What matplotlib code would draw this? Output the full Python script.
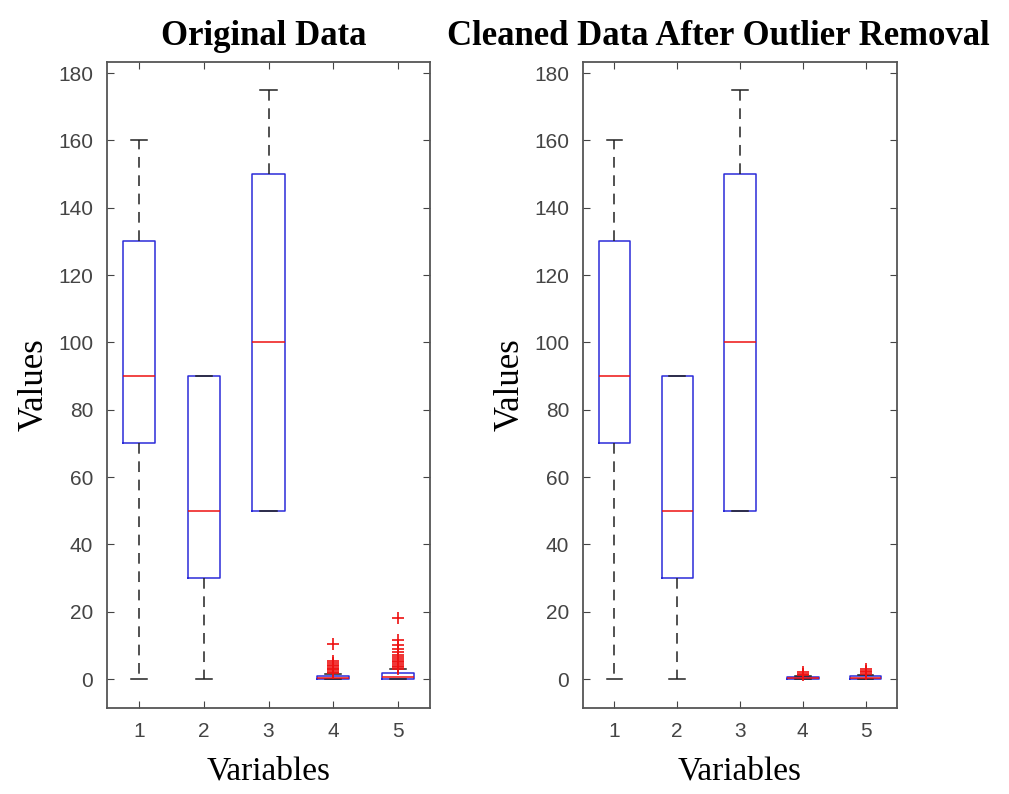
import matplotlib
matplotlib.use("Agg")
import matplotlib.pyplot as plt

# box statistics (whislo, q1, med, q3, whishi)
variables = ["1", "2", "3", "4", "5"]
whislo = [0, 0, 50, 0, 0]
q1 = [70, 30, 50, 0, 0]
med = [90, 50, 100, 0.3, 0.6]
q3 = [130, 90, 150, 0.8, 1.8]
whishi = [160, 90, 175, 1.5, 3.0]

fliers_orig = [
    [],
    [],
    [],
    [1.8, 2.2, 2.6, 3.0, 3.4, 3.8, 4.2, 4.8, 5.5, 10.5],
    [3.0, 3.5, 4.0, 4.5, 5.0, 5.5, 6.0, 6.5, 7.0, 8.0, 9.0, 10.0, 11.5, 18.0],
]

# cleaned data: same boxes, only small outliers left
med_clean = [90, 50, 100, 0.3, 0.4]
q3_clean = [130, 90, 150, 0.6, 0.8]
whishi_clean = [160, 90, 175, 1.0, 1.2]
fliers_clean = [
    [],
    [],
    [],
    [1.2, 1.5, 2.0],
    [1.5, 2.0, 2.5, 3.0],
]


def make_stats(lo, a, m, b, hi, fl):
    return [dict(whislo=lo[i], q1=a[i], med=m[i], q3=b[i], whishi=hi[i],
                 fliers=fl[i], label=variables[i]) for i in range(len(variables))]


def draw(ax, stats, title, title_x):
    ax.bxp(stats, widths=0.5, showfliers=True,
           boxprops=dict(color="#2b2bd9", linewidth=1.1),
           medianprops=dict(color="#ee1111", linewidth=1.1),
           whiskerprops=dict(color="#222222", linestyle=(0, (7, 5)), linewidth=1.1),
           capprops=dict(color="#222222", linewidth=1.1),
           capwidths=0.25,
           flierprops=dict(marker="+", markeredgecolor="#ee1111",
                           markersize=9, markeredgewidth=1.2))
    ax.set_xlim(0.5, 5.5)
    ax.set_ylim(-8.6, 183.3)
    ax.set_yticks(range(0, 181, 20))
    ax.tick_params(direction="in", top=True, right=True, length=5,
                   color="#444444", labelcolor="#444444", labelsize=15, pad=10)
    for lbl in ax.get_xticklabels() + ax.get_yticklabels():
        lbl.set_fontfamily("Liberation Sans")
    for sp in ax.spines.values():
        sp.set_color("#555555")
        sp.set_linewidth(1.3)
    ax.set_title(title, fontfamily="Liberation Serif", fontweight="bold",
                 fontsize=25, pad=12, x=title_x)
    ax.set_xlabel("Variables", fontfamily="Liberation Serif", fontsize=24, labelpad=11)
    ax.set_ylabel("Values", fontfamily="Liberation Serif", fontsize=25, labelpad=5)


fig = plt.figure(figsize=(10.09, 7.94), dpi=100)
ax1 = fig.add_axes((107 / 1009, 1 - 708 / 794, 323 / 1009, 646 / 794))
ax2 = fig.add_axes((583 / 1009, 1 - 708 / 794, 314 / 1009, 646 / 794))

draw(ax1, make_stats(whislo, q1, med, q3, whishi, fliers_orig), "Original Data", 0.486)
draw(ax2, make_stats(whislo, q1, med_clean, q3_clean, whishi_clean, fliers_clean),
     "Cleaned Data After Outlier Removal", 0.43)

fig.savefig("out.png", dpi=100)
